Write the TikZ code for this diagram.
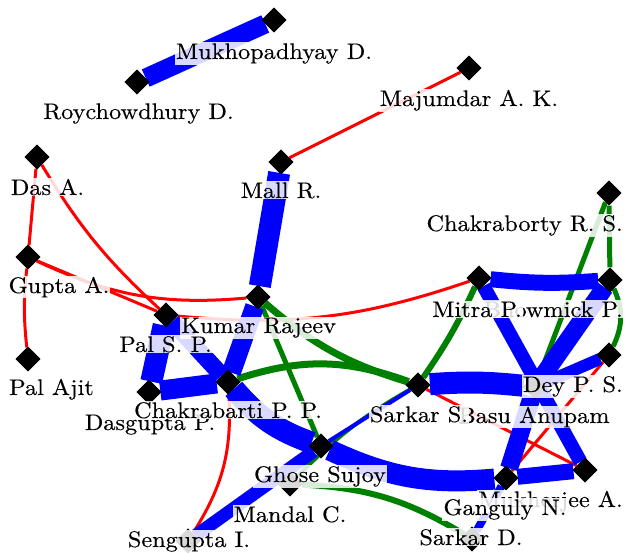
\documentclass[tikz,border=0pt]{standalone}
\usepackage{fontspec}
\setmainfont{lmroman10-regular.otf}[FakeStretch=1.08,FakeBold=0.35]
\usetikzlibrary{shapes.geometric}
\definecolor{lnkblue}{RGB}{0,0,255}
\definecolor{lnkgreen}{RGB}{0,128,0}
\definecolor{lnkred}{RGB}{255,0,0}
\begin{document}
\begin{tikzpicture}[x=1pt,y=1pt,
  author/.style={diamond, fill=black, minimum width=25pt, minimum height=25pt, inner sep=0pt},
  tag/.style={fill=white, fill opacity=0.85, text opacity=1, inner sep=1pt, anchor=base,
              font=\fontsize{22.5}{26}\selectfont},
  edgetag/.style={tag, anchor=base east},
  redlink/.style={draw=lnkred, line width=3pt},
  greenlink/.style={draw=lnkgreen, line width=#1},
  greenlink/.default=5pt,
  bluelink/.style={draw=lnkblue, line width=#1},
  bluelink/.default=16pt]
\useasboundingbox (0,0) rectangle (627,-553);

% authors
\node[author] (mukh)    at (274,-20)  {};
\node[author] (roy)     at (137,-82)  {};
\node[author] (maj)     at (469,-68)  {};
\node[author] (mall)    at (281,-162) {};
\node[author] (das)     at (37,-157)  {};
\node[author] (gupta)   at (28,-257)  {};
\node[author] (kumar)   at (258,-297) {};
\node[author] (palsp)   at (166,-315) {};
\node[author] (palajit) at (28,-359)  {};
\node[author] (dasg)    at (149,-392) {};
\node[author] (chak)    at (228,-382) {};
\node[author] (mitra)   at (479,-278) {};
\node[author] (bhow)    at (610,-280) {};
\node[author] (chakr)   at (609,-193) {};
\node[author] (dey)     at (609,-355) {};
\node[author] (basu)    at (535,-387) {};
\node[author] (sarks)   at (418,-385) {};
\node[author] (ghose)   at (321,-446) {};
\node[author] (mandal)  at (290,-484) {};
\node[author] (seng)    at (188,-541) {};
\node[author] (gang)    at (506,-478) {};
\node[author] (mukher)  at (585,-470) {};
\node[author] (sarkd)   at (472,-539) {};

% weak collaborations
\draw[redlink] (mall) -- (maj);
\draw[redlink] (das) -- (gupta);
\draw[redlink] (gupta) to[bend right=6] (palajit);
\draw[redlink] (das) to[bend right=8] (palsp);
\draw[redlink] (gupta) to[bend right=15] (kumar);
\draw[redlink] (gupta) -- (palsp);
\draw[redlink] (palsp) to[bend right=12] (mitra);
\draw[redlink] (chak) to[bend left=18] (seng);
\draw[redlink] (basu) -- (dey);
\draw[redlink] (sarks) -- (mukher);
\draw[redlink] (dey) -- (gang);

% medium collaborations
\draw[greenlink] (kumar) -- (ghose);
\draw[greenlink=7pt] (kumar) to[bend right=12] (sarks);
\draw[greenlink=7pt] (chak) to[bend left=19] (sarks);
\draw[greenlink=6pt] (sarks) to[bend right=5] (mitra);
\draw[greenlink] (chakr) -- (bhow);
\draw[greenlink] (chakr) -- (basu);
\draw[greenlink] (bhow) to[bend left=25] (dey);
\draw[greenlink=6pt] (mandal) to[bend left=14] (sarkd);
\draw[greenlink=4pt] (mandal) to[bend left=8] (sarks);

% strong collaborations
\draw[bluelink=19pt] (roy) -- (mukh);
\draw[bluelink=22pt] (mall) -- (kumar);
\draw[bluelink=19pt] (kumar) -- (chak);
\draw[bluelink=22pt] (palsp) -- (dasg);
\draw[bluelink=20pt] (dasg) -- (chak);
\draw[bluelink=17pt] (palsp) -- (chak);
\draw[bluelink=22pt] (chak) to[bend right=15] (ghose);
\draw[bluelink=21pt] (ghose) to[bend right=15] (gang);
\draw[bluelink=13pt] (seng) -- (ghose);
\draw[bluelink=4pt] (ghose) -- (sarks);
\draw[bluelink=8pt] (gang) -- (sarkd);
\draw[bluelink=16pt] (mitra) to[bend right=5] (bhow);
\draw[bluelink=14pt] (mitra) -- (mukher);
\draw[bluelink=18pt] (bhow) -- (basu);
\draw[bluelink=12pt] (dey) -- (basu);
\draw[bluelink=22pt] (sarks) to[bend left=5] (basu);
\draw[bluelink=18pt] (basu) -- (gang);
\draw[bluelink=16pt] (gang) -- (mukher);

% markers on top of the links
\foreach \n in {mukh,roy,maj,mall,das,gupta,kumar,palsp,palajit,dasg,chak,mitra,bhow,chakr,dey,basu,sarks,ghose,mandal,seng,gang,mukher,sarkd}
  \node[author] at (\n) {};

% names
\node[tag] (mukh-t)    at (274,-59)   {Mukhopadhyay D.};
\node[tag] (roy-t)     at (138.5,-119){Roychowdhury D.};
\node[tag] (maj-t)     at (469,-106)  {Majumdar A. K.};
\node[tag] (mall-t)    at (281,-198)  {Mall R.};
\node[tag] (das-t)     at (47.5,-195) {Das A.};
\node[tag] (gupta-t)   at (59,-293)   {Gupta A.};
\node[tag] (kumar-t)   at (258.5,-333){Kumar Rajeev};
\node[tag] (palsp-t)   at (165.5,-352){Pal S. P.};
\node[tag] (palajit-t) at (51.5,-395) {Pal Ajit};
\node[tag] (dasg-t)    at (150,-430)  {Dasgupta P.};
\node[tag] (chak-t)    at (228,-418)  {Chakrabarti P. P.};
\node[edgetag] (chakr-t) at (624,-231) {Chakraborty R. S.};
\node[edgetag] (bhow-t)  at (624,-317) {Bhowmick P.};
\node[tag] (mitra-t)   at (477,-317)  {Mitra P.};
\node[tag] (basu-t)    at (534,-423)  {Basu Anupam};
\node[edgetag] (dey-t)   at (624,-392) {Dey P. S.};
\node[tag] (sarks-t)   at (419,-422)  {Sarkar S.};
\node[tag] (ghose-t)   at (320,-482)  {Ghose Sujoy};
\node[tag] (mandal-t)  at (290,-522)  {Mandal C.};
\node[tag] (seng-t)    at (189,-547)  {Sengupta I.};
\node[edgetag] (mukher-t) at (624,-507) {Mukherjee A.};
\node[tag] (gang-t)    at (505,-515)  {Ganguly N.};
\node[tag] (sarkd-t)   at (471,-545)  {Sarkar D.};
\end{tikzpicture}
\end{document}
